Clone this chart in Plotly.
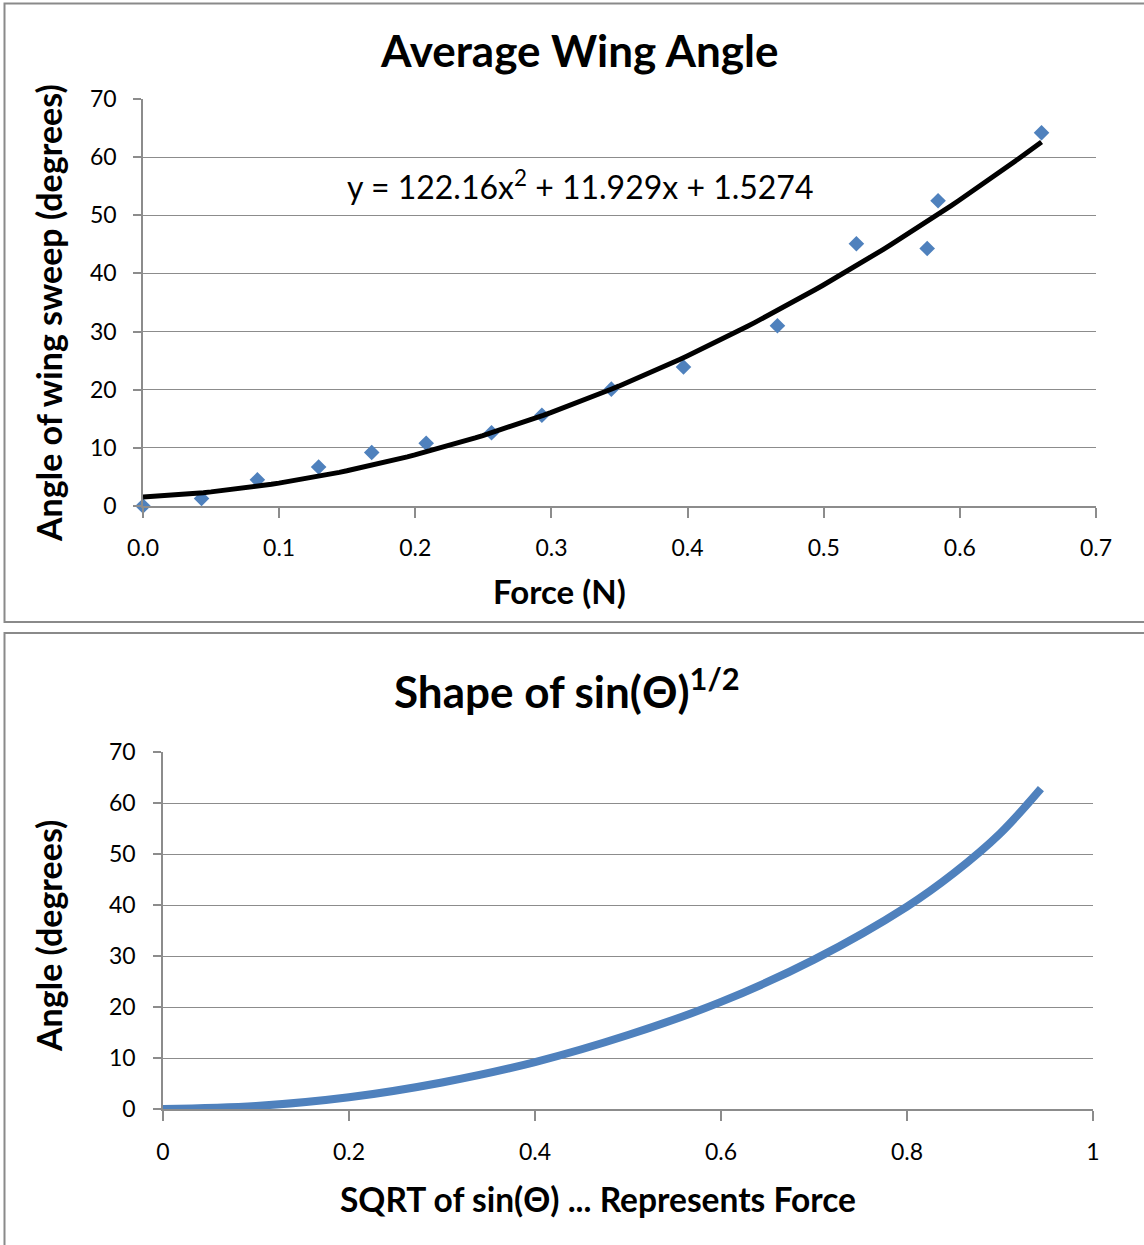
import numpy as np
import plotly.graph_objects as go

# ---- Data ----
force_n = [0.0, 0.043, 0.084, 0.129, 0.168, 0.208, 0.256, 0.293, 0.344, 0.397, 0.466, 0.524, 0.576, 0.584, 0.660]
sweep_deg = [0.0, 1.3, 4.5, 6.7, 9.2, 10.8, 12.6, 15.6, 20.1, 23.9, 31.0, 45.1, 44.3, 52.5, 64.2]
trend_coeffs = [122.16, 11.929, 1.5274]  # y = a x^2 + b x + c (shown on chart)

sqrt_sin = [0.0, 0.1, 0.2, 0.3, 0.4, 0.5, 0.6, 0.7, 0.8, 0.85, 0.9, 0.944]
shape_angle = [0.0, 0.6, 2.3, 5.2, 9.2, 14.5, 21.0, 29.3, 39.7, 46.2, 54.0, 62.8]

top_xticks = [0.0, 0.1, 0.2, 0.3, 0.4, 0.5, 0.6, 0.7]
bot_xticks = [0, 0.2, 0.4, 0.6, 0.8, 1]
y_ticks = [0, 10, 20, 30, 40, 50, 60, 70]

W, H = 1144, 1245
FONT = "Lato"
BLUE = "#4F81BD"
GRID = "#8c8c8c"


def px(x):
    return x / W


def py(y):
    return 1 - y / H


fig = go.Figure()

fig.add_trace(go.Scatter(
    x=force_n, y=sweep_deg, mode="markers",
    marker=dict(symbol="diamond", size=12, color=BLUE),
    cliponaxis=False, xaxis="x", yaxis="y", showlegend=False))

xf = np.linspace(0, max(force_n), 120)
yf = np.polyval(trend_coeffs, xf)
fig.add_trace(go.Scatter(
    x=xf, y=yf, mode="lines", line=dict(color="black", width=5),
    xaxis="x", yaxis="y", showlegend=False))

fig.add_trace(go.Scatter(
    x=sqrt_sin, y=shape_angle, mode="lines",
    line=dict(color=BLUE, width=8, shape="spline"),
    cliponaxis=False, xaxis="x2", yaxis="y2", showlegend=False))

axis_common = dict(showline=True, linecolor=GRID, linewidth=1.5, ticks="outside",
                   tickcolor=GRID, tickwidth=1.5, zeroline=False, automargin=False,
                   tickfont=dict(family=FONT, size=23, color="black"))

fig.update_layout(
    width=W, height=H, margin=dict(l=0, r=0, t=0, b=0, pad=0, autoexpand=False),
    paper_bgcolor="white", plot_bgcolor="white",
    font=dict(family=FONT, color="black"),
    xaxis=dict(domain=[px(143), px(1096)], range=[0, 0.7], tickvals=top_xticks,
               tickformat=".1f", showgrid=False, ticklen=10, ticklabelstandoff=11,
               anchor="y", **axis_common),
    yaxis=dict(domain=[py(506), py(99)], range=[0, 70], tickvals=y_ticks,
               showgrid=True, gridcolor=GRID, gridwidth=1.4, ticklen=8,
               ticklabelstandoff=12, anchor="x", **axis_common),
    xaxis2=dict(domain=[px(163), px(1093)], range=[0, 1], tickvals=bot_xticks,
                showgrid=False, ticklen=10, ticklabelstandoff=12, anchor="y2",
                **axis_common),
    yaxis2=dict(domain=[py(1109), py(752)], range=[0, 70], tickvals=y_ticks,
                showgrid=True, gridcolor=GRID, gridwidth=1.4, ticklen=8,
                ticklabelstandoff=13, anchor="x2", **axis_common),
)

# panel borders
fig.add_shape(type="rect", xref="paper", yref="paper", x0=px(4.5), x1=px(1160),
              y0=py(622), y1=py(3.5), line=dict(color="#8a8a8a", width=2))
fig.add_shape(type="rect", xref="paper", yref="paper", x0=px(4.5), x1=px(1160),
              y0=py(1260), y1=py(633), line=dict(color="#8a8a8a", width=2))

ann = []
ann.append(dict(text="<b>Average Wing Angle</b>", x=px(579), y=py(50),
                font=dict(size=44)))
ann.append(dict(text="<b>Force (N)</b>", x=px(559), y=py(591), font=dict(size=33)))
ann.append(dict(text="<b>Angle of wing sweep (degrees)</b>", x=px(48), y=py(313),
                font=dict(size=34), textangle=-90))
ann.append(dict(text="y = 122.16x<sup>2</sup> + 11.929x + 1.5274", x=px(580), y=py(185),
                font=dict(size=32)))
ann.append(dict(text="<b>Shape of sin(Θ)<sup>1/2</sup></b>", x=px(567), y=py(688),
                font=dict(size=44)))
ann.append(dict(text="<b>SQRT of sin(Θ) ... Represents Force</b>", x=px(598), y=py(1199),
                font=dict(size=33.5)))
ann.append(dict(text="<b>Angle (degrees)</b>", x=px(48), y=py(936),
                font=dict(size=34), textangle=-90))
for a in ann:
    a.update(xref="paper", yref="paper", showarrow=False, xanchor="center", yanchor="middle")
    a["font"].update(family=FONT, color="black")
fig.update_layout(annotations=ann)

fig.write_html("out.html", config={"displayModeBar": False},
               post_script="document.body.style.margin='0';document.body.style.overflow='hidden';")
